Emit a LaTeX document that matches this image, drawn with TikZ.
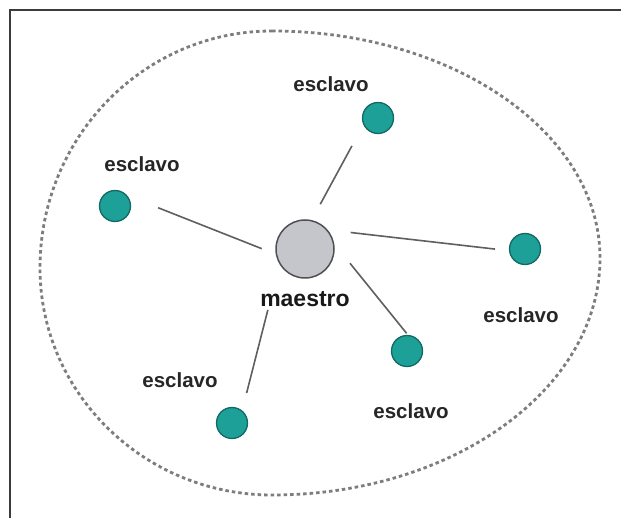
\documentclass[tikz,border=0pt]{standalone}
\usepackage{fontspec}
\setmainfont{Liberation Sans}
\definecolor{mgray}{RGB}{196,198,204}
\definecolor{mborder}{RGB}{80,80,84}
\definecolor{teal1}{RGB}{28,160,152}
\definecolor{teal2}{RGB}{18,105,100}
\definecolor{linkc}{RGB}{95,95,95}
\definecolor{ringc}{RGB}{125,125,125}
\definecolor{framec}{RGB}{60,60,60}
\begin{document}
\begin{tikzpicture}[x=1pt,y=-1pt,
  master/.style={circle, minimum size=58pt, inner sep=0pt, fill=mgray, draw=mborder, line width=1.5pt},
  slave/.style={circle, minimum size=31pt, inner sep=0pt, fill=teal1, draw=teal2, line width=1.3pt},
  lbl/.style={font=\fontsize{20.5}{23}\selectfont\bfseries, inner sep=0pt, text=black!85},
  mlbl/.style={font=\fontsize{23}{25}\selectfont\bfseries, inner sep=0pt, text=black!90},
  link/.style={draw=linkc, line width=1.6pt},
  ring/.style={draw=ringc, line width=2.8pt, dash pattern=on 3.5pt off 3pt},
  frame/.style={draw=framec, line width=2pt}
  ]
\fill[white] (0,0) rectangle (621,518);
\useasboundingbox (0,0) rectangle (621,518);
% frame (left and top sides)
\draw[frame] (10,518) -- (10,10) -- (621,10);
% dashed enclosure
\draw[ring] (272,31) .. controls (453,31) and (600,133) .. (600,258)
  .. controls (600,389) and (453,495) .. (272,495)
  .. controls (144,495) and (40,393) .. (40,268)
  .. controls (40,137) and (144,31) .. cycle;
% nodes
\node[master] (m) at (305,249) {};
\node[slave] (s1) at (378,118) {};
\node[slave] (s2) at (115,206) {};
\node[slave] (s3) at (525,249) {};
\node[slave] (s4) at (407,351) {};
\node[slave] (s5) at (232,423) {};
% labels
\node[mlbl] (lm) at (305,299) {maestro};
\node[lbl] (l1) at (331,84) {esclavo};
\node[lbl] (l2) at (142,164) {esclavo};
\node[lbl] (l3) at (521,315) {esclavo};
\node[lbl] (l4) at (411,411) {esclavo};
\node[lbl] (l5) at (180,380) {esclavo};
% connectors
\draw[link, shorten <=18pt, shorten >=24pt] (m.77) -- (s1.205);
\draw[link, shorten <=15pt, shorten >=33pt] (m.190) -- (s2.40);
\draw[link, shorten <=23pt, shorten >=14pt] (m.40) -- (s3.186);
\draw[link, shorten <=25pt, shorten >=2pt] (m.10) -- (s4.87);
\draw[link, shorten <=47pt, shorten >=18pt] (m.211) -- (s5.51);
\end{tikzpicture}
\end{document}
